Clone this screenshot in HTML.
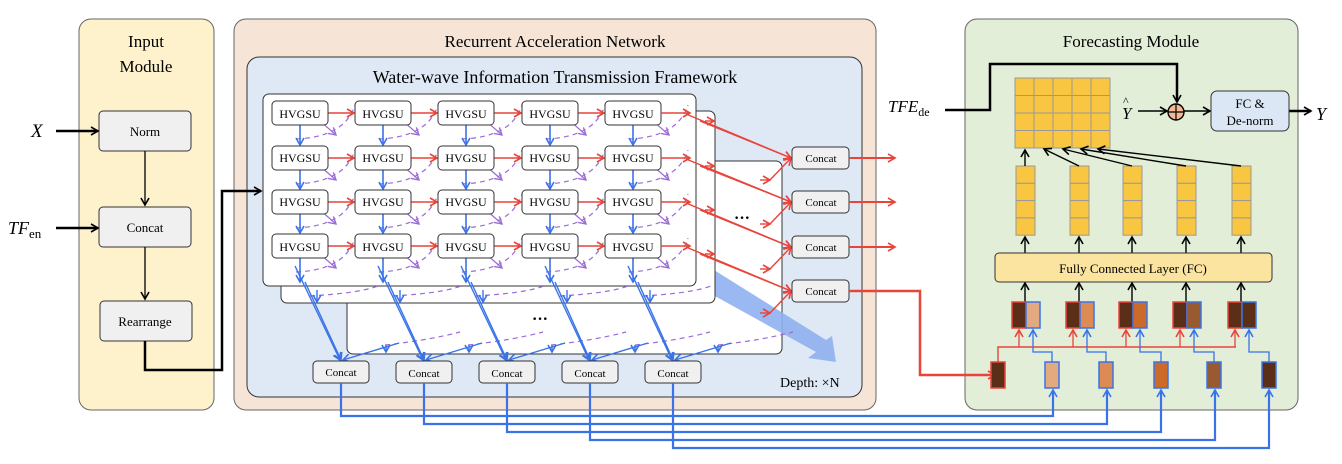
<!DOCTYPE html>
<html><head><meta charset="utf-8"><style>
body{margin:0;background:#fff}
svg{display:block;font-family:"Liberation Serif",serif}
</style></head><body>
<svg id="s" width="1342" height="464" viewBox="0 0 1342 464" xmlns="http://www.w3.org/2000/svg">
<defs>
<marker id="ak" markerWidth="10" markerHeight="10" refX="8" refY="5" orient="auto" markerUnits="userSpaceOnUse"><path d="M1,1 L8,5 L1,9" fill="none" stroke="#000" stroke-width="1.6"/></marker>
<marker id="ar" markerWidth="10" markerHeight="10" refX="8" refY="5" orient="auto" markerUnits="userSpaceOnUse"><path d="M1,1 L8,5 L1,9" fill="none" stroke="#e8443a" stroke-width="1.6"/></marker>
<marker id="ab" markerWidth="10" markerHeight="10" refX="8" refY="5" orient="auto" markerUnits="userSpaceOnUse"><path d="M1,1 L8,5 L1,9" fill="none" stroke="#3a73e8" stroke-width="1.6"/></marker>
<marker id="ap" markerWidth="10" markerHeight="10" refX="8" refY="5" orient="auto" markerUnits="userSpaceOnUse"><path d="M1,1 L8,5 L1,9" fill="none" stroke="#9b6bd6" stroke-width="1.4"/></marker>
</defs>
<rect x="79" y="19" width="135" height="391" rx="12" fill="#fdf2cc" stroke="#666"/>
<rect x="234" y="19" width="642" height="391" rx="12" fill="#f6e4d6" stroke="#666"/>
<rect x="247" y="57" width="615" height="340" rx="12" fill="#dfe9f5" stroke="#333"/>
<rect x="965" y="19" width="333" height="391" rx="12" fill="#e3eed9" stroke="#666"/>
<text x="146" y="47" font-size="17" text-anchor="middle">Input</text>
<text x="146" y="72" font-size="17" text-anchor="middle">Module</text>
<text x="555" y="47" font-size="17" text-anchor="middle">Recurrent Acceleration Network</text>
<text x="555" y="83" font-size="18" text-anchor="middle">Water-wave Information Transmission Framework</text>
<text x="1131" y="47" font-size="17" text-anchor="middle">Forecasting Module</text>
<g fill="#f0f0f0" stroke="#333" stroke-width="1">
<rect x="99" y="111" width="92" height="40" rx="4"/>
<rect x="99" y="207" width="92" height="40" rx="4"/>
<rect x="100" y="301" width="92" height="40" rx="4"/>
</g>
<text x="145" y="136" font-size="13" text-anchor="middle">Norm</text>
<text x="145" y="232" font-size="13" text-anchor="middle">Concat</text>
<text x="145" y="326" font-size="13" text-anchor="middle">Rearrange</text>
<text x="31" y="137" font-size="19" font-style="italic">X</text>
<text x="8" y="234" font-size="18" font-style="italic">TF<tspan font-size="13" font-style="normal" dy="4">en</tspan></text>
<g stroke="#000" fill="none">
<line x1="56" y1="131" x2="98" y2="131" stroke-width="2.5" marker-end="url(#ak)"/>
<line x1="56" y1="228" x2="98" y2="228" stroke-width="2.5" marker-end="url(#ak)"/>
<line x1="145" y1="151" x2="145" y2="205" stroke-width="1.3" marker-end="url(#ak)"/>
<line x1="145" y1="247" x2="145" y2="299" stroke-width="1.3" marker-end="url(#ak)"/>
<polyline points="145,341 145,370 222,370 222,191 261,191" stroke-width="2.5" marker-end="url(#ak)"/>
</g>
<rect x="347" y="161" width="435" height="193" rx="6" fill="#fff" stroke="#333"/>
<polygon points="700,280 714,270 826,340 832,336 836,362 808,358 816,352 704,290" fill="#8fb0ef" opacity="0.9"/>
<rect x="281" y="111" width="434" height="192" rx="6" fill="#fff" stroke="#333"/>
<rect x="263" y="94" width="433" height="192" rx="6" fill="#fff" stroke="#333"/>
<g id="dyn"></g>
<text x="540" y="324" font-size="16" text-anchor="middle" font-weight="bold">···</text>
<text x="742" y="223" font-size="16" text-anchor="middle" font-weight="bold">···</text>
<text x="780" y="387" font-size="14">Depth: ×N</text>
<g font-size="12" text-anchor="middle">
<text x="300" y="118">HVGSU</text><text x="383" y="118">HVGSU</text><text x="466" y="118">HVGSU</text><text x="550" y="118">HVGSU</text><text x="633" y="118">HVGSU</text>
<text x="300" y="162">HVGSU</text><text x="383" y="162">HVGSU</text><text x="466" y="162">HVGSU</text><text x="550" y="162">HVGSU</text><text x="633" y="162">HVGSU</text>
<text x="300" y="206">HVGSU</text><text x="383" y="206">HVGSU</text><text x="466" y="206">HVGSU</text><text x="550" y="206">HVGSU</text><text x="633" y="206">HVGSU</text>
<text x="300" y="251">HVGSU</text><text x="383" y="251">HVGSU</text><text x="466" y="251">HVGSU</text><text x="550" y="251">HVGSU</text><text x="633" y="251">HVGSU</text>
</g>
<g font-size="11" text-anchor="middle">
<text x="821" y="162">Concat</text><text x="821" y="206">Concat</text><text x="821" y="251">Concat</text><text x="821" y="295">Concat</text>
<text x="341" y="376">Concat</text><text x="424" y="377">Concat</text><text x="507" y="377">Concat</text><text x="590" y="377">Concat</text><text x="673" y="377">Concat</text>
</g>
<text x="888" y="112" font-size="17" font-style="italic">TFE<tspan font-size="12" font-style="normal" dy="4">de</tspan></text>
<text x="1122" y="119" font-size="17" font-style="italic">Y</text>
<text x="1123" y="105" font-size="12">^</text>
<rect x="1211" y="91" width="78" height="40" rx="6" fill="#dbe7f5" stroke="#333"/>
<text x="1250" y="108" font-size="13" text-anchor="middle">FC &amp;</text>
<text x="1250" y="125" font-size="13" text-anchor="middle">De-norm</text>
<text x="1316" y="120" font-size="18" font-style="italic">Y</text>
<rect x="995" y="253" width="277" height="29" rx="4" fill="#fbe3a0" stroke="#333"/>
<text x="1133" y="273" font-size="13" text-anchor="middle">Fully Connected Layer (FC)</text>
</svg>
<script>
const NS="http://www.w3.org/2000/svg",g=document.getElementById('dyn');
function el(t,a,p){const e=document.createElementNS(NS,t);for(const k in a)e.setAttribute(k,a[k]);(p||g).appendChild(e);return e;}
const R='#e8443a',B='#3a73e8',P='#9b6bd6';
const cx=[300,383,466,550,633],ry=[113,158,202,246];
ry.forEach(y=>cx.forEach((x,i)=>{
 el('line',{x1:x+20,y1:y+8,x2:x+36,y2:y+22,stroke:P,'stroke-width':1.2,'marker-end':'url(#ap)'});
 const nx=(i<4?cx[i+1]:x+83)-28;
 el('path',{d:`M${x-4},${y+26} Q${nx-10},${y+24} ${nx},${y-8}`,stroke:P,'stroke-width':1.2,fill:'none','stroke-dasharray':'5,4'});
}));
cx.forEach((x,i)=>{el('path',{d:`M${x+10},${296} Q${x+60},${293} ${x+78},${286}`,stroke:P,'stroke-width':1.2,fill:'none','stroke-dasharray':'5,4'});
 el('path',{d:`M${x+85},${345} Q${x+130},${340} ${x+160},${332}`,stroke:P,'stroke-width':1.2,fill:'none','stroke-dasharray':'5,4'});});
ry.forEach((y,r)=>cx.forEach((x,i)=>{
 if(i<4) el('line',{x1:x+28,y1:y,x2:cx[i+1]-29,y2:y,stroke:R,'stroke-width':1.6,'marker-end':'url(#ar)'});
 el('line',{x1:x,y1:y+12,x2:x,y2:r<3?ry[r+1]-13:y+36,stroke:B,'stroke-width':1.6,'marker-end':'url(#ab)'});
}));
cx.forEach(x=>{ry.forEach(y=>el('rect',{x:x-28,y:y-12,width:56,height:24,rx:4,fill:'#fff',stroke:'#333'}));});
const cy=[158,202,247,291];
ry.forEach((y,r)=>{
 el('line',{x1:661,y1:y,x2:690,y2:y,stroke:R,'stroke-width':1.6,'marker-end':'url(#ar)'});
 el('line',{x1:686,y1:y+1,x2:791,y2:cy[r],stroke:R,'stroke-width':1.4,'marker-end':'url(#ar)'});
 el('line',{x1:700,y1:y+8,x2:791,y2:cy[r],stroke:R,'stroke-width':1.4,'marker-end':'url(#ar)'});
 el('line',{x1:705,y1:y+8,x2:714,y2:y+8,stroke:R,'stroke-width':1.4,'marker-end':'url(#ar)'});
 el('line',{x1:760,y1:cy[r]+22,x2:770,y2:cy[r]+22,stroke:R,'stroke-width':1.4,'marker-end':'url(#ar)'});
 el('line',{x1:770,y1:cy[r]+22,x2:791,y2:cy[r],stroke:R,'stroke-width':1.4,'marker-end':'url(#ar)'});
});
cy.forEach((y,i)=>{el('rect',{x:792,y:y-11,width:57,height:22,rx:4,fill:'#f0f0f0',stroke:'#333'});
 if(i<3) el('line',{x1:849,y1:y,x2:895,y2:y,stroke:R,'stroke-width':2,'marker-end':'url(#ar)'});});
el('polyline',{points:'849,291 920,291 920,375 995,375',stroke:R,'stroke-width':2.5,fill:'none','marker-end':'url(#ar)'});
const bx=[341,424,507,590,673];
bx.forEach((x,i)=>{
 el('line',{x1:cx[i]-5,y1:266,x2:x-1,y2:360,stroke:B,'stroke-width':1.4,'marker-end':'url(#ab)'});
 el('line',{x1:cx[i]+5,y1:282,x2:x,y2:360,stroke:B,'stroke-width':1.4,'marker-end':'url(#ab)'});
 el('line',{x1:cx[i]+17,y1:290,x2:cx[i]+17,y2:302,stroke:B,'stroke-width':1.4,'marker-end':'url(#ab)'});
 el('line',{x1:x+45,y1:345,x2:x+45,y2:352,stroke:B,'stroke-width':1.4,'marker-end':'url(#ab)'});
 el('line',{x1:x+58,y1:343,x2:x+2,y2:360,stroke:B,'stroke-width':1.4,'marker-end':'url(#ab)'});
 el('rect',{x:x-28,y:361,width:56,height:22,rx:4,fill:'#f0f0f0',stroke:'#333'});
 const tx=[1053,1107,1161,1215,1269][i],ly=416+8*i;
 el('polyline',{points:`${x},383 ${x},${ly} ${tx},${ly} ${tx},390`,stroke:B,'stroke-width':2.2,fill:'none','marker-end':'url(#ab)'});
});
el('polyline',{points:'945,110 990,110 990,64 1177,64 1177,102',stroke:'#000','stroke-width':2.5,fill:'none','marker-end':'url(#ak)'});
for(let r=0;r<4;r++)for(let c=0;c<5;c++)el('rect',{x:1015+c*19,y:78+r*17.5,width:19,height:17.5,fill:'#f8c640',stroke:'#999','stroke-width':1});
el('circle',{cx:1176,cy:112,r:8,fill:'#f4b896',stroke:'#000','stroke-width':1.4});
el('path',{d:'M1168,112H1184M1176,104V120',stroke:'#000','stroke-width':1.2});
el('line',{x1:1138,y1:111,x2:1167,y2:111,stroke:'#000','stroke-width':1.4,'marker-end':'url(#ak)'});
el('line',{x1:1184,y1:111,x2:1210,y2:111,stroke:'#000','stroke-width':1.4,'marker-end':'url(#ak)'});
el('line',{x1:1289,y1:111,x2:1311,y2:111,stroke:'#000','stroke-width':2.5,'marker-end':'url(#ak)'});
const vx=[1016,1070,1123,1177,1232],tg=[1025,1044,1063,1081,1098];
vx.forEach((x,i)=>{
 for(let k=0;k<4;k++)el('rect',{x:x,y:166+k*17.3,width:19,height:17.3,fill:'#f8c640',stroke:'#999'});
 el('line',{x1:x+9,y1:166,x2:tg[i],y2:i?149:150,stroke:'#000','stroke-width':1.4,'marker-end':'url(#ak)'});
 el('line',{x1:x+9,y1:253,x2:x+9,y2:237,stroke:'#000','stroke-width':1.4,'marker-end':'url(#ak)'});
 el('line',{x1:x+9,y1:302,x2:x+9,y2:283,stroke:'#000','stroke-width':1.4,'marker-end':'url(#ak)'});
});
const cols=['#e3aa80','#dd8b55','#cc6a2a','#9a5a30','#5a2e17'];
const px=[1012,1066,1119,1173,1228];
el('polyline',{points:'998,362 998,347 1236,347',stroke:R,'stroke-width':1.4,fill:'none'});
px.forEach((x,i)=>{
 el('rect',{x:x,y:302,width:14,height:26,fill:'#5a2e17',stroke:R,'stroke-width':1.5});
 el('rect',{x:x+14,y:302,width:14,height:26,fill:cols[i],stroke:B,'stroke-width':1.5});
 el('line',{x1:x+7,y1:347,x2:x+7,y2:330,stroke:R,'stroke-width':1.3,'marker-end':'url(#ar)'});
 const bxx=[1052,1106,1161,1214,1269][i];
 el('polyline',{points:`${bxx},362 ${bxx},352 ${x+21},352 ${x+21},330`,stroke:B,'stroke-width':1.3,fill:'none','marker-end':'url(#ab)'});
 el('rect',{x:bxx-7,y:362,width:14,height:26,fill:cols[i],stroke:B,'stroke-width':1.5});
});
el('rect',{x:991,y:362,width:14,height:26,fill:'#5a2e17',stroke:R,'stroke-width':1.5});
</script>
</body></html>
